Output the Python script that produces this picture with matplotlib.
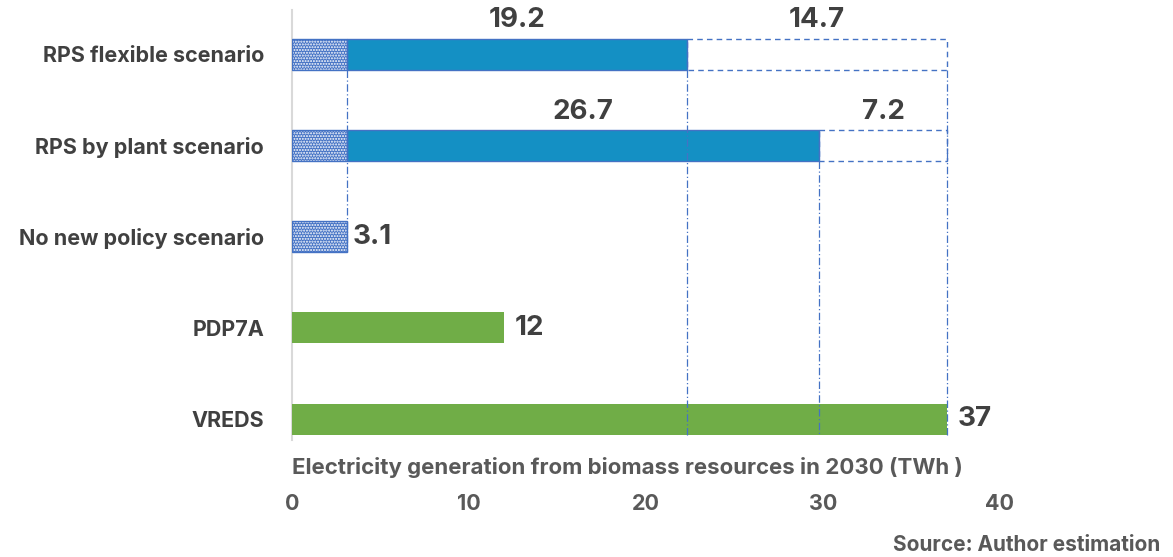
import matplotlib
matplotlib.use("Agg")
import matplotlib.pyplot as plt

categories = ["RPS flexible scenario", "RPS by plant scenario", "No new policy scenario", "PDP7A", "VREDS"]
base_values = [3.1, 3.1, 3.1, None, None]        # no new policy baseline (dotted)
added_values = [19.2, 26.7, None, None, None]    # additional generation (solid blue)
potential_gap = [14.7, 7.2, None, None, None]    # remaining to VREDS (dashed outline)
green_values = [None, None, None, 12, 37]        # PDP7A, VREDS
xticks = [0, 10, 20, 30, 40]

plt.rcParams['font.family'] = ['Inter', 'DejaVu Sans']

fig = plt.figure(figsize=(11.73, 5.57), dpi=100)
W, H = 1173, 557
ax = fig.add_axes([292 / W, 1 - 440 / H, (1000 - 292) / W, (440 - 10) / H])

blue = "#1490C4"
dotblue = "#4472C4"
green = "#70AD47"
txt = "#404040"
bh = 0.34
ys = list(range(len(categories)))
lblsize = 20

for i, y in enumerate(ys):
    b = base_values[i]
    a = added_values[i]
    g = potential_gap[i]
    gv = green_values[i]
    if b is not None:
        ax.barh(y, b, height=bh, color=dotblue, edgecolor="white", hatch="......", linewidth=0, zorder=3)
        ax.barh(y, b, height=bh, color="none", edgecolor=dotblue, linewidth=1, zorder=4)
    if a is not None:
        ax.barh(y, a, left=b, height=bh, color=blue, edgecolor=dotblue, linewidth=1, zorder=3)
        ax.text(b + a / 2, y - 0.37, f"{a}", ha="center", va="center", fontsize=lblsize, fontweight="bold", color=txt)
    if g is not None:
        ax.barh(y, g, left=b + a, height=bh, color="none", edgecolor=dotblue, linewidth=1, linestyle=(0, (4, 3)), zorder=3)
        ax.text(b + a + g / 2, y - 0.37, f"{g}", ha="center", va="center", fontsize=lblsize, fontweight="bold", color=txt)
    if b is not None and a is None:
        ax.text(b + 0.3, y, f"{b}", ha="left", va="center", fontsize=lblsize, fontweight="bold", color=txt)
    if gv is not None:
        ax.barh(y, gv, height=bh, color=green, linewidth=0, zorder=3)
        ax.text(gv + 0.6, y, f"{gv}", ha="left", va="center", fontsize=lblsize, fontweight="bold", color=txt)

# reference guide lines
x_nnp = base_values[2]
x_flex = base_values[0] + added_values[0]
x_plant = base_values[1] + added_values[1]
x_vreds = green_values[4]
lkw = dict(color=dotblue, linewidth=0.9, linestyle=(0, (6, 2, 1, 2)), zorder=5)
ax.plot([x_nnp, x_nnp], [0 + bh / 2, 2 + bh / 2], **lkw)
ax.plot([x_flex, x_flex], [0 + bh / 2, 4 + bh / 2], **lkw)
ax.plot([x_plant, x_plant], [1 + bh / 2, 4 + bh / 2], **lkw)
ax.plot([x_vreds, x_vreds], [0 + bh / 2, 4 + bh / 2], **lkw)

ax.set_xlim(0, 40)
ax.set_ylim(4.23, -0.484)
ax.set_yticks(ys)
ax.set_yticklabels(categories, fontsize=15.5, fontweight="bold", color=txt)
ax.set_xticks(xticks)
ax.set_xticklabels([str(t) for t in xticks], fontsize=15.5, fontweight="bold", color="#595959")
ax.tick_params(axis="x", length=0, pad=39)
ax.tick_params(axis="y", length=0, pad=20)
for s in ["top", "right", "bottom"]:
    ax.spines[s].set_visible(False)
ax.spines["left"].set_color("#D9D9D9")
ax.spines["left"].set_linewidth(1.5)

fig.text(292 / W, 1 - 467 / H, "Electricity generation from biomass resources in 2030 (TWh )",
         ha="left", va="center", fontsize=16, fontweight="bold", color="#595959")
fig.text(1160 / W, 1 - 545 / H, "Source: Author estimation",
         ha="right", va="center", fontsize=15, fontweight="bold", color="#595959")

fig.savefig("out.png", dpi=100)
